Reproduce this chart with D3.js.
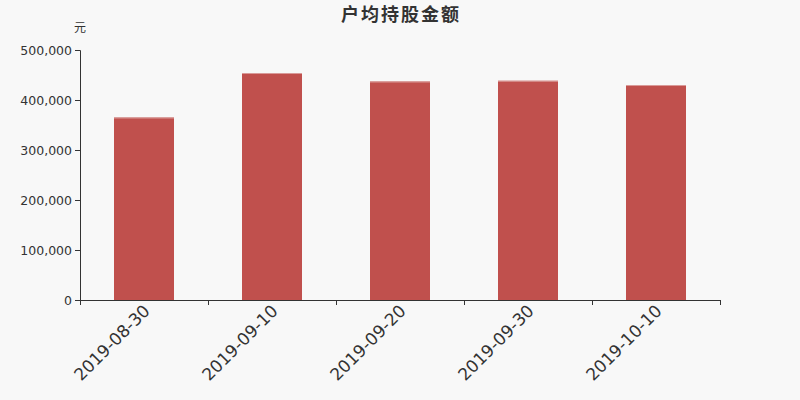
<!DOCTYPE html>
<html>
<head>
<meta charset="utf-8">
<script src="https://cdn.jsdelivr.net/npm/d3@7"></script>
<style>
  body { margin: 0; background: #f8f8f8; }
  svg { display: block; }
  svg text { font-family: "DejaVu Sans", "Noto Sans CJK SC", sans-serif; }
</style>
</head>
<body>
<svg id="chart" width="800" height="400"></svg>
<script>
var dates = ['2019-08-30', '2019-09-10', '2019-09-20', '2019-09-30', '2019-10-10'];
var amounts = [365000, 454000, 437000, 438500, 430000];
var yTicks = [0, 100000, 200000, 300000, 400000, 500000];

var width = 800, height = 400;
var margin = { top: 50, right: 80, bottom: 100, left: 80 };

var svg = d3.select('#chart');
svg.append('rect').attr('width', width).attr('height', height).attr('fill', '#f8f8f8');

var x = d3.scaleBand()
  .domain(dates)
  .range([margin.left, width - margin.right]);

var y = d3.scaleLinear()
  .domain([0, 500000])
  .range([height - margin.bottom, margin.top]);

var barW = 60;

// bars
svg.selectAll('rect.bar')
  .data(amounts)
  .enter()
  .append('rect')
  .attr('class', 'bar')
  .attr('x', function(d, i) { return x(dates[i]) + (x.bandwidth() - barW) / 2; })
  .attr('y', function(d) { return y(d); })
  .attr('width', barW)
  .attr('height', function(d) { return y(0) - y(d); })
  .attr('fill', '#c0504d');

// light top edge on each bar
svg.selectAll('line.cap')
  .data(amounts)
  .enter()
  .append('line')
  .attr('class', 'cap')
  .attr('x1', function(d, i) { return x(dates[i]) + (x.bandwidth() - barW) / 2; })
  .attr('x2', function(d, i) { return x(dates[i]) + (x.bandwidth() + barW) / 2; })
  .attr('y1', function(d) { return y(d) + 0.5; })
  .attr('y2', function(d) { return y(d) + 0.5; })
  .attr('stroke', '#d99a98')
  .attr('stroke-width', 1);

// y axis
var yAxis = d3.axisLeft(y)
  .tickValues(yTicks)
  .tickSize(5)
  .tickFormat(d3.format(','));

var gy = svg.append('g')
  .attr('transform', 'translate(' + margin.left + ',0)')
  .call(yAxis);
gy.attr('font-family', null);
gy.selectAll('path, line').attr('stroke', '#333');
gy.selectAll('text').attr('fill', '#333').style('font-size', '12.5px').attr('x', -8);

// x axis, ticks on band boundaries
var xAxis = d3.axisBottom(x).tickSize(0).tickSizeOuter(0);
var gx = svg.append('g')
  .attr('transform', 'translate(0,' + y(0) + ')')
  .call(xAxis);
gx.attr('font-family', null);
gx.select('.domain').attr('stroke', '#333');
gx.selectAll('.tick line').remove();
gx.selectAll('.tick text')
  .attr('fill', '#333')
  .style('font-size', '17px')
  .attr('text-anchor', 'end')
  .attr('dy', null)
  .attr('transform', 'translate(7,12) rotate(-45)')
  .attr('y', 0)
  .attr('x', 0);

var bounds = dates.map(function(d) { return x(d); }).concat([width - margin.right]);
svg.append('g').selectAll('line')
  .data(bounds)
  .enter()
  .append('line')
  .attr('x1', function(d) { return d + 0.5; })
  .attr('x2', function(d) { return d + 0.5; })
  .attr('y1', y(0))
  .attr('y2', y(0) + 5)
  .attr('stroke', '#333');

// title and unit
svg.append('text')
  .attr('x', width / 2 + 1)
  .attr('y', 21)
  .attr('text-anchor', 'middle')
  .attr('fill', '#333')
  .style('font-size', '18px')
  .style('letter-spacing', '2px')
  .style('font-weight', 'bold')
  .text('户均持股金额');

svg.append('text')
  .attr('x', 80)
  .attr('y', 32)
  .attr('text-anchor', 'middle')
  .attr('fill', '#333')
  .style('font-size', '12px')
  .text('元');
</script>
</body>
</html>
